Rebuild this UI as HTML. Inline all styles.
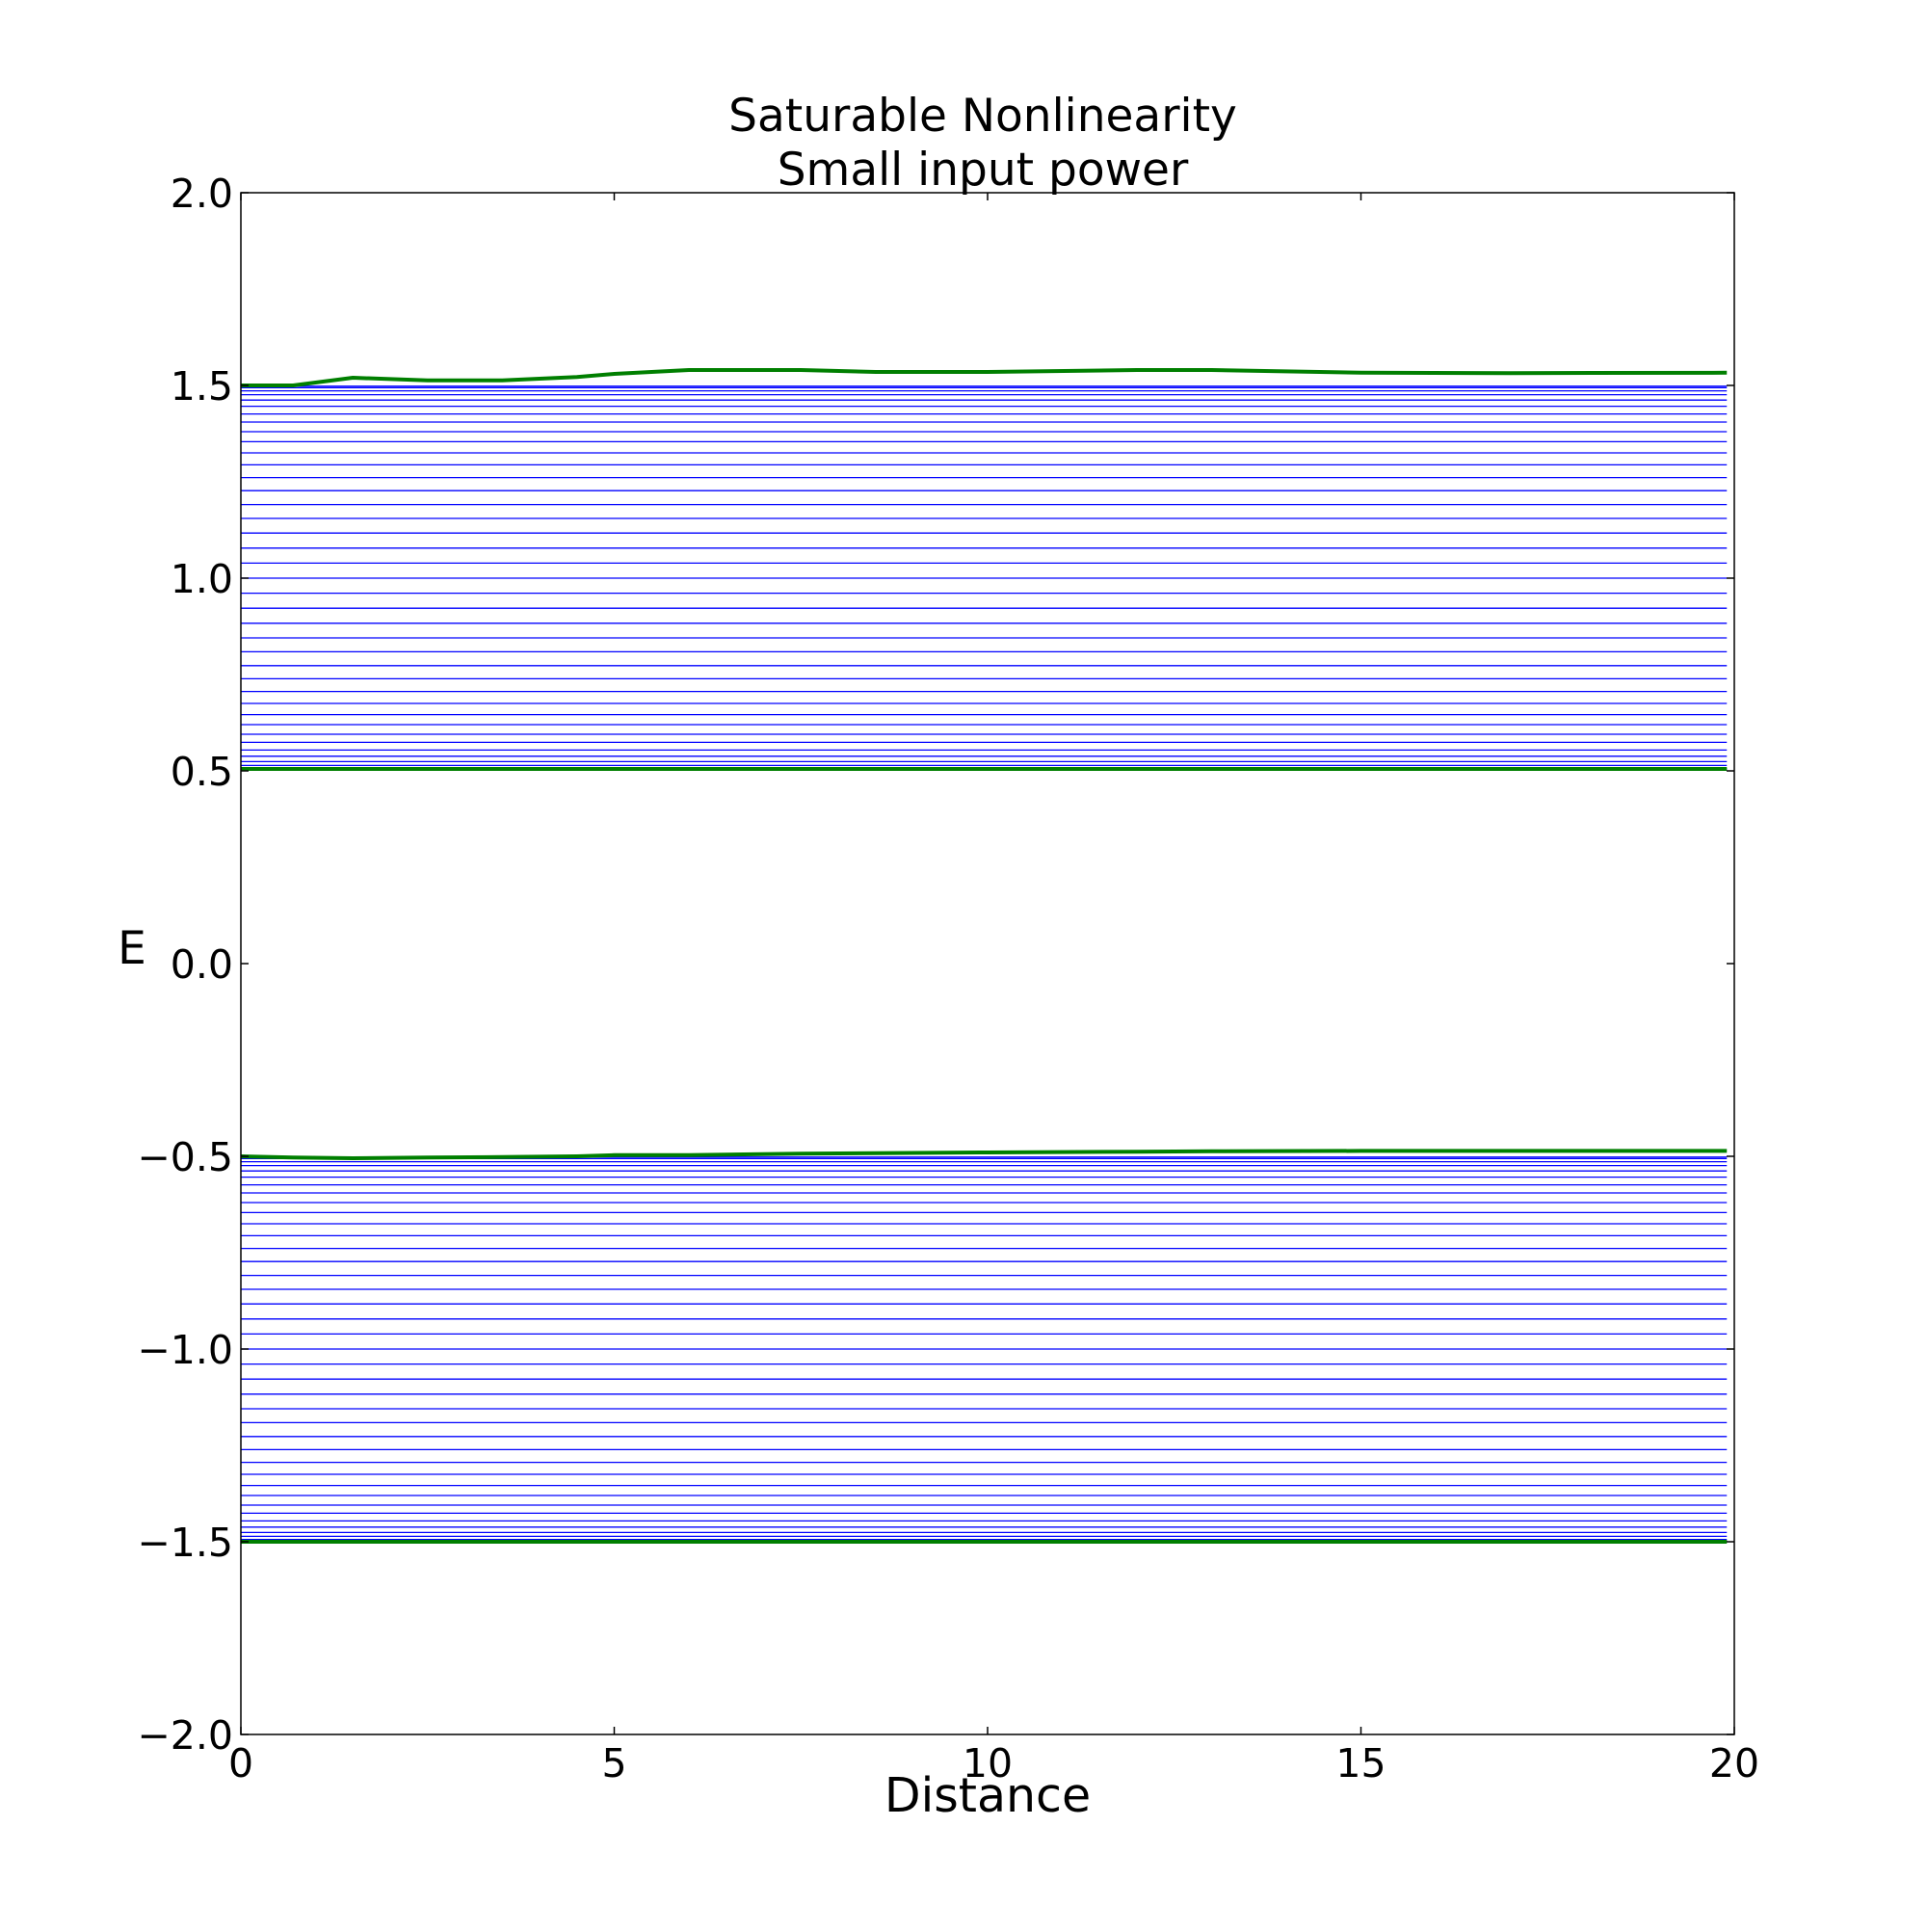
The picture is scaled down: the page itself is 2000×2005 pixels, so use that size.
<!DOCTYPE html>
<html><head><meta charset="utf-8"><style>
html,body{margin:0;padding:0;background:#fff;}
svg text{font-family:"DejaVu Sans","Liberation Sans",sans-serif;fill:#000;}
</style></head><body>
<svg id="chart" width="2000" height="2000" xmlns="http://www.w3.org/2000/svg">
<rect width="2000" height="2000" fill="#fff"/>
<text x="1020" y="136" font-size="47" text-anchor="middle">Saturable Nonlinearity</text>
<text x="1020" y="192" font-size="47" text-anchor="middle">Small input power</text>
<g id="lines"></g>
<rect x="250" y="200" width="1550" height="1600" fill="none" stroke="#000" stroke-width="1.5"/>
<g id="ticks"></g>
<text x="1025" y="1880" font-size="49" text-anchor="middle">Distance</text>
<text x="137" y="1000" font-size="47" text-anchor="middle">E</text>
</svg>
<script>
const xTicks = [0, 5, 10, 15, 20];
const yTicks = [-2.0, -1.5, -1.0, -0.5, 0.0, 0.5, 1.0, 1.5, 2.0];
const yTickLabels = ["\u22122.0","\u22121.5","\u22121.0","\u22120.5","0.0","0.5","1.0","1.5","2.0"];
const xEnd = 19.9;
const upperLevels = [1.498,1.494,1.486,1.476,1.462,1.446,1.426,1.405,1.380,1.354,1.325,1.294,1.261,1.227,1.191,1.155,1.117,1.078,1.039,1.0,0.961,0.922,0.883,0.845,0.809,0.773,0.739,0.706,0.675,0.646,0.620,0.595,0.574,0.554,0.538,0.524,0.514,0.506,0.502];
const lowerLevels = [-0.502,-0.506,-0.514,-0.524,-0.538,-0.554,-0.574,-0.595,-0.620,-0.646,-0.675,-0.706,-0.739,-0.773,-0.809,-0.845,-0.883,-0.922,-0.961,-1.0,-1.039,-1.078,-1.117,-1.155,-1.191,-1.227,-1.261,-1.294,-1.325,-1.354,-1.380,-1.405,-1.426,-1.446,-1.462,-1.476,-1.486,-1.494,-1.498];
const greenX = [0,0.7,1.5,2.5,3.5,4.5,5,6,7.5,8.5,10,12,13,15,17,19.9];
const greenUpperTop = [1.5,1.5,1.52,1.513,1.513,1.522,1.53,1.54,1.54,1.535,1.535,1.54,1.54,1.533,1.532,1.533];
const greenUpperBottom = [0.505,0.505,0.505,0.505,0.505,0.505,0.505,0.505,0.505,0.505,0.505,0.505,0.505,0.505,0.505,0.505];
const greenLowerTop = [-0.5,-0.503,-0.505,-0.503,-0.502,-0.5,-0.497,-0.497,-0.493,-0.492,-0.49,-0.488,-0.487,-0.486,-0.486,-0.486];
const greenLowerBottom = [-1.5,-1.5,-1.5,-1.5,-1.5,-1.5,-1.5,-1.5,-1.5,-1.5,-1.5,-1.5,-1.5,-1.5,-1.5,-1.5];

const NS = "http://www.w3.org/2000/svg";
function sx(v){ return 250 + v / 20 * 1550; }
function sy(v){ return 1800 - (v + 2) / 4 * 1600; }
const gl = document.getElementById('lines');
const gt = document.getElementById('ticks');

function hline(level){
  const l = document.createElementNS(NS, 'line');
  l.setAttribute('x1', sx(0)); l.setAttribute('x2', sx(xEnd));
  l.setAttribute('y1', sy(level)); l.setAttribute('y2', sy(level));
  l.setAttribute('stroke', '#0000ff'); l.setAttribute('stroke-width', '1.3');
  
  
  gl.appendChild(l);
}
upperLevels.forEach(v=>hline(v));
lowerLevels.forEach(v=>hline(v));

function green(arr, name){
  const p = document.createElementNS(NS, 'polyline');
  p.setAttribute('points', arr.map((v,i)=>sx(greenX[i])+','+sy(v)).join(' '));
  p.setAttribute('fill', 'none'); p.setAttribute('stroke', '#007f00');
  p.setAttribute('stroke-width', '4'); p.setAttribute('stroke-linejoin', 'round');
  
  
  gl.appendChild(p);
}
green(greenUpperTop, 'upper-band-top-edge');
green(greenUpperBottom, 'upper-band-bottom-edge');
green(greenLowerTop, 'lower-band-top-edge');
green(greenLowerBottom, 'lower-band-bottom-edge');

function tick(x1,y1,x2,y2){
  const l = document.createElementNS(NS, 'line');
  l.setAttribute('x1', x1); l.setAttribute('y1', y1); l.setAttribute('x2', x2); l.setAttribute('y2', y2);
  l.setAttribute('stroke', '#000'); l.setAttribute('stroke-width', '1.5');
  
  
  gt.appendChild(l);
}
function label(x,y,txt,anchor,name){
  const t = document.createElementNS(NS, 'text');
  t.setAttribute('x', x); t.setAttribute('y', y); t.setAttribute('font-size', '41');
  t.setAttribute('text-anchor', anchor); t.textContent = txt;
  
  
  gt.appendChild(t);
}
xTicks.forEach(v=>{
  const x = sx(v);
  tick(x,1800,x,1792); tick(x,200,x,208);
  label(x,1844,String(v),'middle','x-tick-label');
});
yTicks.forEach((v,i)=>{
  const y = sy(v);
  tick(250,y,258,y); tick(1800,y,1792,y);
  label(242,y+15,yTickLabels[i],'end','y-tick-label');
});
</script>
</body></html>
